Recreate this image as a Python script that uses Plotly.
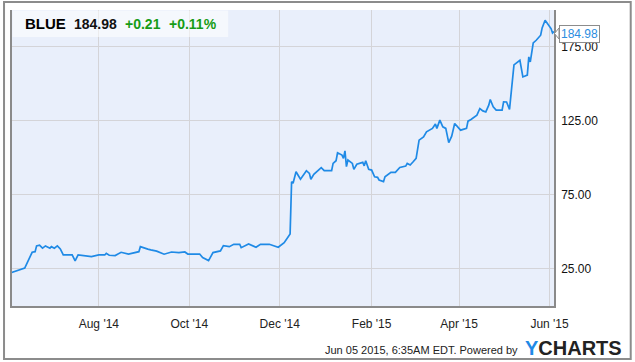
import plotly.graph_objects as go

ticker = "BLUE"
last_price = "184.98"
change_abs = "+0.21"
change_pct = "+0.11%"

dates = [
    "2014-06-03", "2014-06-12", "2014-06-17", "2014-06-19", "2014-06-20", "2014-06-22",
    "2014-06-24", "2014-06-26", "2014-06-29", "2014-06-30", "2014-07-02", "2014-07-04",
    "2014-07-06", "2014-07-08", "2014-07-14", "2014-07-16", "2014-07-18", "2014-07-22",
    "2014-07-27", "2014-08-01", "2014-08-05", "2014-08-06", "2014-08-08", "2014-08-12",
    "2014-08-16", "2014-08-21", "2014-08-28", "2014-08-29", "2014-09-01", "2014-09-03",
    "2014-09-05", "2014-09-09", "2014-09-14", "2014-09-19", "2014-09-24", "2014-09-28",
    "2014-09-30", "2014-10-02", "2014-10-08", "2014-10-10", "2014-10-14", "2014-10-17",
    "2014-10-22", "2014-10-24", "2014-10-28", "2014-10-31", "2014-11-04", "2014-11-05",
    "2014-11-10", "2014-11-15", "2014-11-18", "2014-11-24", "2014-11-30", "2014-12-04",
    "2014-12-08", "2014-12-09", "2014-12-10", "2014-12-12", "2014-12-15", "2014-12-19",
    "2014-12-21", "2014-12-22", "2014-12-24", "2014-12-29", "2014-12-31", "2015-01-05",
    "2015-01-06", "2015-01-08", "2015-01-09", "2015-01-12", "2015-01-13", "2015-01-14",
    "2015-01-15", "2015-01-16", "2015-01-19", "2015-01-20", "2015-01-22", "2015-01-26",
    "2015-01-27", "2015-01-28", "2015-01-30", "2015-02-01", "2015-02-03", "2015-02-05",
    "2015-02-06", "2015-02-09", "2015-02-10", "2015-02-14", "2015-02-17", "2015-02-20",
    "2015-02-24", "2015-02-25", "2015-02-27", "2015-03-01", "2015-03-03", "2015-03-05",
    "2015-03-08", "2015-03-10", "2015-03-14", "2015-03-16", "2015-03-17", "2015-03-19",
    "2015-03-21", "2015-03-23", "2015-03-25", "2015-03-27", "2015-03-29", "2015-04-02",
    "2015-04-06", "2015-04-07", "2015-04-09", "2015-04-13", "2015-04-15", "2015-04-17",
    "2015-04-19", "2015-04-21", "2015-04-22", "2015-04-24", "2015-04-26", "2015-04-30",
    "2015-05-01", "2015-05-03", "2015-05-05", "2015-05-08", "2015-05-11", "2015-05-12",
    "2015-05-14", "2015-05-17", "2015-05-18", "2015-05-19", "2015-05-21", "2015-05-23",
    "2015-05-26", "2015-05-27", "2015-05-29", "2015-05-31", "2015-06-02", "2015-06-03",
    "2015-06-04",
]

prices = [
    22.5, 25.5, 36.2, 36.6, 40.5, 41.0,
    39.0, 40.5, 39.0, 40.0, 39.0, 40.5,
    38.5, 34.4, 34.4, 30.4, 34.4, 34.0,
    33.3, 34.4, 34.4, 35.5, 34.2, 34.0,
    36.2, 35.0, 36.6, 40.0, 38.8, 38.3,
    37.8, 37.0, 34.9, 36.4, 36.0, 36.4,
    35.0, 35.0, 35.0, 32.6, 30.6, 36.0,
    37.1, 40.7, 40.0, 41.6, 41.6, 39.3,
    41.8, 39.6, 41.6, 41.6, 39.6, 42.7,
    48.5, 83.8, 82.7, 90.5, 85.4, 91.2,
    89.4, 85.4, 88.7, 93.2, 91.2, 91.2,
    96.1, 97.9, 103.3, 101.7, 99.5, 104.6,
    93.9, 98.4, 96.1, 92.1, 95.5, 96.8,
    94.5, 97.9, 92.1, 91.6, 87.1, 86.7,
    84.9, 83.8, 87.1, 90.1, 90.1, 93.4,
    94.3, 96.1, 95.0, 97.2, 99.5, 111.8,
    114.0, 117.4, 119.7, 122.6, 119.7, 125.3,
    120.8, 119.7, 110.1, 114.5, 123.0, 118.5,
    119.7, 124.6, 125.7, 128.6, 133.1, 131.5,
    130.8, 135.4, 139.2, 134.2, 132.0, 132.0,
    137.6, 137.5, 132.5, 162.5, 164.9, 165.6,
    154.4, 155.6, 167.9, 164.5, 177.3, 179.1,
    182.5, 187.4, 192.6, 189.9, 187.0, 184.0,
    184.98,
]

x_tick_vals = ["2014-08-01", "2014-10-01", "2014-12-01", "2015-02-01", "2015-04-01", "2015-06-01"]
x_tick_text = ["Aug '14", "Oct '14", "Dec '14", "Feb '15", "Apr '15", "Jun '15"]
y_tick_vals = [25, 75, 125, 175]
y_tick_text = ["25.00", "75.00", "125.00", "175.00"]

footer_text = "Jun 05 2015, 6:35AM EDT. Powered by"

W, H = 635, 362
L, R, T, B = 10, 554, 10, 306


def px_x(p):
    return (p - L) / (R - L)


def px_y(p):
    return (B - p) / (B - T)


font_family = "Liberation Sans, Arial, sans-serif"

fig = go.Figure()
fig.add_trace(go.Scatter(
    x=dates, y=prices, mode="lines",
    line=dict(color="#1f8ae6", width=1.7),
    hoverinfo="skip", showlegend=False,
))

fig.update_layout(
    width=W, height=H,
    margin=dict(l=L, r=W - R, t=T, b=H - B),
    paper_bgcolor="white",
    plot_bgcolor="#e9effb",
    font=dict(family=font_family, size=12, color="#222"),
    showlegend=False,
    xaxis=dict(
        range=["2014-06-03 10:00", "2015-06-04"],
        tickvals=x_tick_vals, ticktext=x_tick_text,
        showgrid=True, gridcolor="#d4d4d8", gridwidth=1,
        showline=True, linecolor="#8a8a8a", linewidth=1.5,
        ticks="outside", ticklen=6, tickcolor="rgba(0,0,0,0)",
        tickfont=dict(size=12, color="#222"),
        zeroline=False, fixedrange=True,
    ),
    yaxis=dict(
        range=[0, 199.5], side="right",
        tickvals=y_tick_vals, ticktext=y_tick_text,
        showgrid=True, gridcolor="#d4d4d8", gridwidth=1,
        showline=True, linecolor="#8a8a8a", linewidth=1.5, mirror=True,
        ticks="outside", ticklen=3, tickcolor="rgba(0,0,0,0)",
        tickfont=dict(size=12, color="#111"),
        zeroline=False, fixedrange=True,
    ),
)

shapes = []
# outer border
shapes.append(dict(type="rect", xref="paper", yref="paper",
                   x0=px_x(2), x1=px_x(631), y0=px_y(359), y1=px_y(2),
                   line=dict(color="#8c8c8c", width=2), fillcolor="rgba(0,0,0,0)", layer="below"))
# legend box
shapes.append(dict(type="rect", xref="paper", yref="paper",
                   x0=px_x(10.5), x1=px_x(227), y0=px_y(37), y1=px_y(10.5),
                   line=dict(width=0), fillcolor="rgba(255,255,255,0.55)", layer="above"))
# pointer for last-value label
shapes.append(dict(type="path", xref="paper", yref="paper",
                   path=f"M {px_x(559)} {px_y(28)} L {px_x(554.5)} {px_y(33.5)} L {px_x(559)} {px_y(39)} Z",
                   line=dict(color="#8c8c8c", width=1), fillcolor="white", layer="above"))
fig.update_layout(shapes=shapes)

annotations = []
annotations.append(dict(xref="paper", yref="paper", x=px_x(21), y=px_y(24),
                        xanchor="left", yanchor="middle", showarrow=False,
                        text=f"<b>{ticker}</b>",
                        font=dict(size=15, color="#000", family=font_family)))
annotations.append(dict(xref="paper", yref="paper", x=px_x(70), y=px_y(24),
                        xanchor="left", yanchor="middle", showarrow=False,
                        text=f"<b>{last_price}</b>",
                        font=dict(size=14, color="#111", family=font_family)))
annotations.append(dict(xref="paper", yref="paper", x=px_x(121), y=px_y(24),
                        xanchor="left", yanchor="middle", showarrow=False,
                        text=f"<b>{change_abs}</b>",
                        font=dict(size=14, color="#169c16", family=font_family)))
annotations.append(dict(xref="paper", yref="paper", x=px_x(166), y=px_y(24),
                        xanchor="left", yanchor="middle", showarrow=False,
                        text=f"<b>{change_pct}</b>",
                        font=dict(size=14, color="#169c16", family=font_family)))
# last-value label
annotations.append(dict(xref="paper", yref="paper", x=px_x(559), y=px_y(33.5),
                        xanchor="left", yanchor="middle", showarrow=False,
                        text=f"{prices[-1]:.2f}",
                        font=dict(size=12, color="#2b8de0", family=font_family),
                        bgcolor="white", bordercolor="#8c8c8c", borderwidth=1, borderpad=1))
# footer
annotations.append(dict(xref="paper", yref="paper", x=px_x(520), y=px_y(350),
                        xanchor="right", yanchor="middle", showarrow=False,
                        text=footer_text,
                        font=dict(size=11, color="#222", family=font_family)))
annotations.append(dict(xref="paper", yref="paper", x=px_x(523), y=px_y(348),
                        xanchor="left", yanchor="middle", showarrow=False,
                        text="<b><span style='color:#1f8ae6'>Y</span>CHARTS</b>",
                        font=dict(size=20, color="#222", family=font_family)))
fig.update_layout(annotations=annotations)

fig.write_html("out.html")
